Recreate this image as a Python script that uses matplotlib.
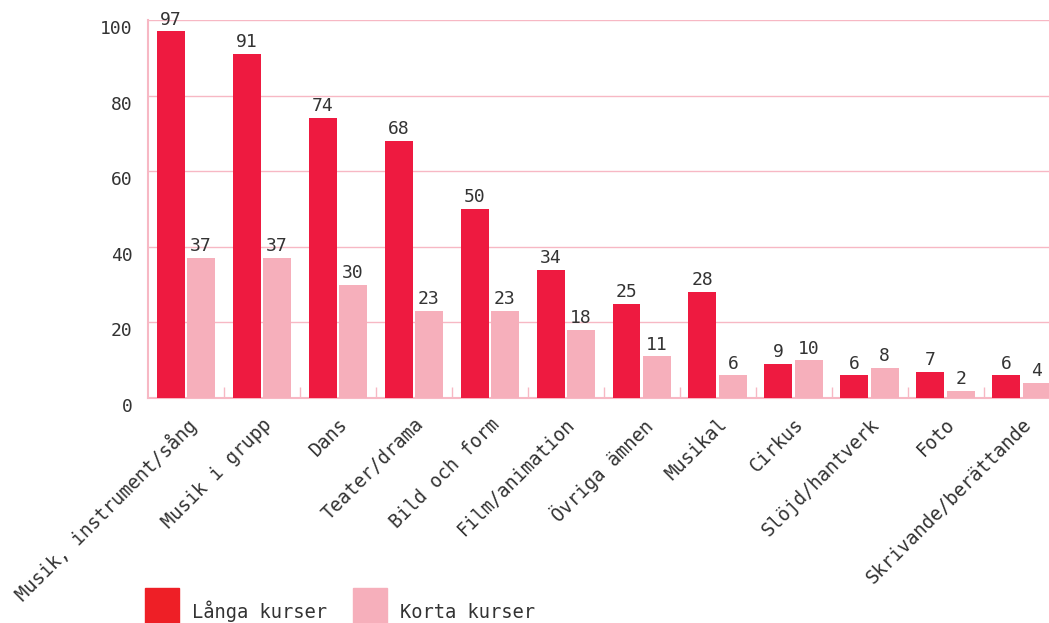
import numpy as np
import matplotlib.pyplot as plt
from matplotlib.patches import Patch
from matplotlib.transforms import ScaledTranslation

categories = ["Musik, instrument/sång", "Musik i grupp", "Dans", "Teater/drama",
              "Bild och form", "Film/animation", "Övriga ämnen", "Musikal", "Cirkus",
              "Slöjd/hantverk", "Foto", "Skrivande/berättande"]
langa = [97, 91, 74, 68, 50, 34, 25, 28, 9, 6, 7, 6]
korta = [37, 37, 30, 23, 23, 18, 11, 6, 10, 8, 2, 4]
series_names = ["Långa kurser", "Korta kurser"]

dark = "#EE1A40"
light = "#F6AFBB"
grid_col = "#F7B8C4"
text_col = "#333333"

plt.rcParams["font.family"] = ["DejaVu Sans Mono"]

fig = plt.figure(figsize=(10.49, 6.23), dpi=100)
# axes runs a little past the right edge, like the original
ax = fig.add_axes([0.141, 0.361, 0.869, 0.607])

x = np.arange(len(categories))
w = 0.368
off = 0.2
b1 = ax.bar(x - off, langa, w, color=dark, zorder=3)
b2 = ax.bar(x + off, korta, w, color=light, zorder=3)
for bars in (b1, b2):
    for rect in bars:
        h = rect.get_height()
        ax.annotate(f"{h:g}", (rect.get_x() + rect.get_width() / 2, h),
                    xytext=(0, 2), textcoords="offset points",
                    ha="center", va="bottom", fontsize=13, color=text_col)

ax.set_xlim(-0.5, len(categories) - 0.5)
ax.set_ylim(0, 100)
ax.set_yticks(range(0, 101, 20))
ax.yaxis.grid(True, color=grid_col, lw=1, zorder=0)
ax.tick_params(axis="y", length=0, pad=11, labelsize=13, labelcolor=text_col)
shift = ScaledTranslation(0, -7 / 100, fig.dpi_scale_trans)
for lab in ax.get_yticklabels():
    lab.set_transform(lab.get_transform() + shift)

ax.set_xticks(x)
ax.set_xticklabels(categories, rotation=45, ha="right", rotation_mode="anchor",
                   fontsize=13.5, color=text_col)
ax.tick_params(axis="x", which="major", length=0, pad=12)
ax.set_xticks(np.arange(0.5, len(categories) - 0.5), minor=True)
ax.tick_params(axis="x", which="minor", direction="in", length=8, color=grid_col, width=1)

for s in ("top", "right"):
    ax.spines[s].set_visible(False)
for s in ("left", "bottom"):
    ax.spines[s].set_color(grid_col)
    ax.spines[s].set_linewidth(1.5)

handles = [Patch(color="#EE1F26"), Patch(color=light)]
leg = fig.legend(handles, series_names, loc="upper left", bbox_to_anchor=(0.122, 0.084),
                 ncol=2, frameon=False, fontsize=13.5, handlelength=1.8, handleheight=2.75,
                 handletextpad=0.7, columnspacing=1.4, labelcolor=text_col)
# labels sit a bit low next to the squares in the original
for t in leg.get_texts():
    t.set_y(-6)

fig.savefig("out.png", dpi=100)
